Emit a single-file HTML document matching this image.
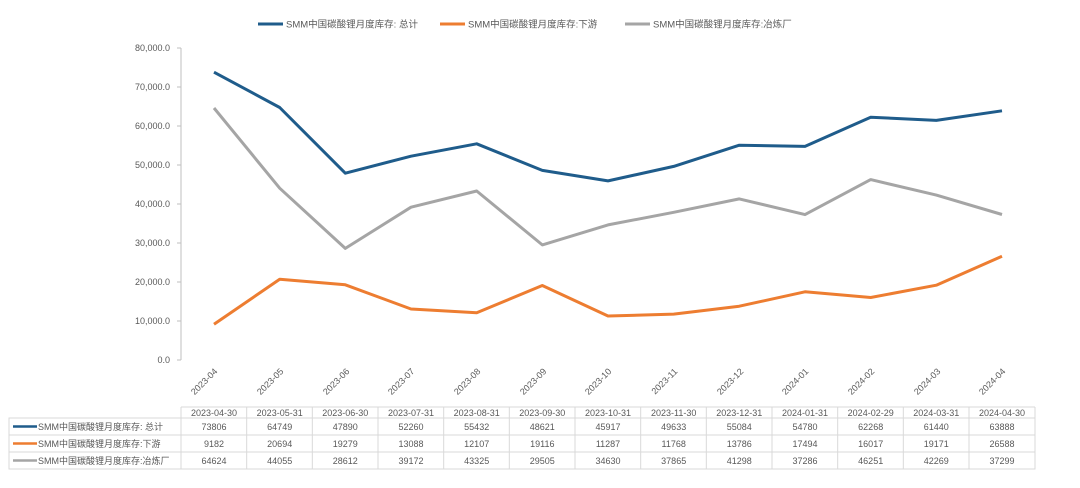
<!DOCTYPE html>
<html><head><meta charset="utf-8"><style>
body{margin:0;background:#fff;}
svg text{font-family:"Liberation Sans","Noto Sans CJK SC",sans-serif;fill:#595959;}
</style></head><body>
<svg width="1080" height="483" viewBox="0 0 1080 483" xmlns="http://www.w3.org/2000/svg">
<g font-size="9.5">
<line x1="258" y1="24" x2="283" y2="24" stroke="#1f5c8b" stroke-width="3"/><text x="286" y="27.5">SMM中国碳酸锂月度库存: 总计</text>
<line x1="440" y1="24" x2="465" y2="24" stroke="#ed7d31" stroke-width="3"/><text x="468" y="27.5">SMM中国碳酸锂月度库存:下游</text>
<line x1="625" y1="24" x2="650" y2="24" stroke="#a5a5a5" stroke-width="3"/><text x="653" y="27.5">SMM中国碳酸锂月度库存:冶炼厂</text>
</g>
<g font-size="9" text-anchor="end">
<line x1="181" y1="48" x2="181" y2="360" stroke="#bfbfbf"/>
<g stroke="#bfbfbf">
<line x1="177" y1="48" x2="181" y2="48"/><line x1="177" y1="87" x2="181" y2="87"/><line x1="177" y1="126" x2="181" y2="126"/><line x1="177" y1="165" x2="181" y2="165"/><line x1="177" y1="204" x2="181" y2="204"/><line x1="177" y1="243" x2="181" y2="243"/><line x1="177" y1="282" x2="181" y2="282"/><line x1="177" y1="321" x2="181" y2="321"/><line x1="177" y1="360" x2="181" y2="360"/>
</g>
<text x="170" y="51">80,000.0</text><text x="170" y="90">70,000.0</text><text x="170" y="129">60,000.0</text><text x="170" y="168">50,000.0</text><text x="170" y="207">40,000.0</text><text x="170" y="246">30,000.0</text><text x="170" y="285">20,000.0</text><text x="170" y="324">10,000.0</text><text x="170" y="363">0.0</text>
</g>
<g font-size="9" text-anchor="end">
<text transform="translate(218,372) rotate(-45)">2023-04</text>
<text transform="translate(284,372) rotate(-45)">2023-05</text>
<text transform="translate(350,372) rotate(-45)">2023-06</text>
<text transform="translate(415,372) rotate(-45)">2023-07</text>
<text transform="translate(481,372) rotate(-45)">2023-08</text>
<text transform="translate(547,372) rotate(-45)">2023-09</text>
<text transform="translate(612,372) rotate(-45)">2023-10</text>
<text transform="translate(678,372) rotate(-45)">2023-11</text>
<text transform="translate(744,372) rotate(-45)">2023-12</text>
<text transform="translate(809,372) rotate(-45)">2024-01</text>
<text transform="translate(875,372) rotate(-45)">2024-02</text>
<text transform="translate(941,372) rotate(-45)">2024-03</text>
<text transform="translate(1006,372) rotate(-45)">2024-04</text>
</g>
<g fill="none" stroke-width="3" stroke-linejoin="round">
<polyline stroke="#1f5c8b" points="214,72.2 279.7,107.5 345.3,173.2 411,156.2 476.7,143.8 542.3,170.4 608,180.9 673.7,166.4 739.3,145.2 805,146.4 870.7,117.2 936.3,120.4 1002,110.8"/>
<polyline stroke="#ed7d31" points="214,324.2 279.7,279.3 345.3,284.8 411,309 476.7,312.8 542.3,285.5 608,316 673.7,314.1 739.3,306.2 805,291.8 870.7,297.5 936.3,285.2 1002,256.3"/>
<polyline stroke="#a5a5a5" points="214,108 279.7,188.2 345.3,248.4 411,207.2 476.7,191 542.3,244.9 608,224.9 673.7,212.3 739.3,198.9 805,214.6 870.7,179.6 936.3,195.1 1002,214.5"/>
</g>
<g stroke="#d9d9d9" fill="none">
<rect x="9" y="418" width="1026" height="51"/>
<line x1="181" y1="407" x2="1035" y2="407"/>
<line x1="9" y1="435" x2="1035" y2="435"/><line x1="9" y1="452" x2="1035" y2="452"/>
<line x1="181" y1="407" x2="181" y2="469"/><line x1="1035" y1="407" x2="1035" y2="418"/>
<line x1="246.7" y1="407" x2="246.7" y2="469"/><line x1="312.3" y1="407" x2="312.3" y2="469"/><line x1="378" y1="407" x2="378" y2="469"/><line x1="443.7" y1="407" x2="443.7" y2="469"/><line x1="509.3" y1="407" x2="509.3" y2="469"/><line x1="575" y1="407" x2="575" y2="469"/><line x1="640.7" y1="407" x2="640.7" y2="469"/><line x1="706.3" y1="407" x2="706.3" y2="469"/><line x1="772" y1="407" x2="772" y2="469"/><line x1="837.7" y1="407" x2="837.7" y2="469"/><line x1="903.3" y1="407" x2="903.3" y2="469"/><line x1="969" y1="407" x2="969" y2="469"/>
</g>
<line x1="13" y1="426.5" x2="37" y2="426.5" stroke="#1f5c8b" stroke-width="2.5"/>
<line x1="13" y1="443.5" x2="37" y2="443.5" stroke="#ed7d31" stroke-width="2.5"/>
<line x1="13" y1="460.5" x2="37" y2="460.5" stroke="#a5a5a5" stroke-width="2.5"/>
<g font-size="9">
<text x="38" y="430">SMM中国碳酸锂月度库存: 总计</text>
<text x="38" y="447">SMM中国碳酸锂月度库存:下游</text>
<text x="38" y="464">SMM中国碳酸锂月度库存:冶炼厂</text>
</g>
<g font-size="9" text-anchor="middle">
<g transform="translate(0,416)"><text x="214">2023-04-30</text><text x="279.7">2023-05-31</text><text x="345.3">2023-06-30</text><text x="411">2023-07-31</text><text x="476.7">2023-08-31</text><text x="542.3">2023-09-30</text><text x="608">2023-10-31</text><text x="673.7">2023-11-30</text><text x="739.3">2023-12-31</text><text x="805">2024-01-31</text><text x="870.7">2024-02-29</text><text x="936.3">2024-03-31</text><text x="1002">2024-04-30</text></g>
<g transform="translate(0,430)"><text x="214">73806</text><text x="279.7">64749</text><text x="345.3">47890</text><text x="411">52260</text><text x="476.7">55432</text><text x="542.3">48621</text><text x="608">45917</text><text x="673.7">49633</text><text x="739.3">55084</text><text x="805">54780</text><text x="870.7">62268</text><text x="936.3">61440</text><text x="1002">63888</text></g>
<g transform="translate(0,447)"><text x="214">9182</text><text x="279.7">20694</text><text x="345.3">19279</text><text x="411">13088</text><text x="476.7">12107</text><text x="542.3">19116</text><text x="608">11287</text><text x="673.7">11768</text><text x="739.3">13786</text><text x="805">17494</text><text x="870.7">16017</text><text x="936.3">19171</text><text x="1002">26588</text></g>
<g transform="translate(0,464)"><text x="214">64624</text><text x="279.7">44055</text><text x="345.3">28612</text><text x="411">39172</text><text x="476.7">43325</text><text x="542.3">29505</text><text x="608">34630</text><text x="673.7">37865</text><text x="739.3">41298</text><text x="805">37286</text><text x="870.7">46251</text><text x="936.3">42269</text><text x="1002">37299</text></g>
</g>
</svg>
</body></html>
